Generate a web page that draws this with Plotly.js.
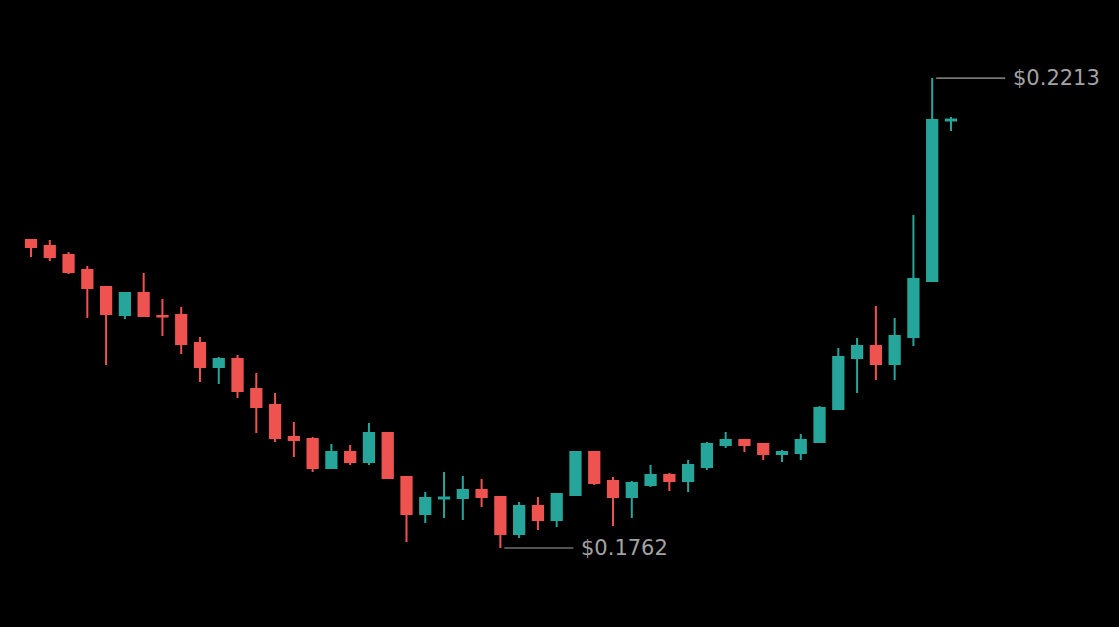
<!DOCTYPE html>
<html>
<head>
<meta charset="utf-8">
<script src="https://cdn.plot.ly/plotly-3.0.1.min.js"></script>
<style>
  html, body { margin: 0; padding: 0; background: #000; }
  #chart { width: 1119px; height: 627px; }
</style>
</head>
<body>
<div id="chart"></div>
<script>
'use strict';

// OHLC, one value per candle
const opens = [
  0.20575, 0.20518, 0.20432, 0.20288, 0.20124, 0.19856, 0.20067, 0.19846, 0.19856, 0.19587,
  0.19357, 0.19434, 0.19146, 0.18992, 0.18685, 0.18666, 0.18388, 0.18541, 0.18445, 0.18723,
  0.18301, 0.17946, 0.18095, 0.18100, 0.18176, 0.18109, 0.17754, 0.18023, 0.17889, 0.18129,
  0.18541, 0.18263, 0.18109, 0.18224, 0.18320, 0.18263, 0.18397, 0.18608, 0.18656, 0.18618,
  0.18522, 0.18532, 0.18637, 0.18954, 0.19443, 0.19558, 0.19386, 0.19645, 0.20182, 0.21722
];
const highs = [
  0.20578, 0.20575, 0.20460, 0.20326, 0.20128, 0.20076, 0.20259, 0.20009, 0.19933, 0.19645,
  0.19453, 0.19472, 0.19299, 0.19107, 0.18829, 0.18685, 0.18618, 0.18608, 0.18819, 0.18726,
  0.18304, 0.18157, 0.18349, 0.18311, 0.18282, 0.18112, 0.18061, 0.18109, 0.18148, 0.18544,
  0.18544, 0.18301, 0.18263, 0.18416, 0.18340, 0.18464, 0.18637, 0.18733, 0.18666, 0.18621,
  0.18560, 0.18714, 0.18983, 0.19539, 0.19635, 0.19942, 0.19827, 0.20815, 0.22130, 0.21756
];
const lows = [
  0.20412, 0.20374, 0.20249, 0.19827, 0.19376, 0.19817, 0.19843, 0.19654, 0.19481, 0.19213,
  0.19194, 0.19059, 0.18723, 0.18637, 0.18493, 0.18349, 0.18378, 0.18416, 0.18416, 0.18289,
  0.17677, 0.17860, 0.17908, 0.17889, 0.18013, 0.17620, 0.17716, 0.17793, 0.17821, 0.18126,
  0.18224, 0.17831, 0.17908, 0.18205, 0.18167, 0.18157, 0.18368, 0.18580, 0.18541, 0.18464,
  0.18445, 0.18464, 0.18628, 0.18951, 0.19107, 0.19232, 0.19232, 0.19558, 0.20179, 0.21621
];
const closes = [
  0.20508, 0.20412, 0.20268, 0.20115, 0.19865, 0.20067, 0.19846, 0.19842, 0.19577, 0.19357,
  0.19434, 0.19127, 0.18973, 0.18675, 0.18656, 0.18388, 0.18541, 0.18445, 0.18723, 0.18292,
  0.17946, 0.18100, 0.18105, 0.18176, 0.18109, 0.17754, 0.18023, 0.17889, 0.18138, 0.18541,
  0.18244, 0.18109, 0.18244, 0.18320, 0.18263, 0.18416, 0.18618, 0.18656, 0.18608, 0.18522,
  0.18541, 0.18656, 0.18963, 0.19453, 0.19558, 0.19386, 0.19654, 0.20201, 0.21727, 0.21732
];

const upColor = '#26a69a',
      downColor = '#ef5350',
      labelColor = '#a3a3a3';

const idx = opens.map(function (_, i) { return i; });

// where the extreme prices sit
const maxHigh = Math.max(...highs),
      minLow = Math.min(...lows),
      maxIdx = highs.indexOf(maxHigh),
      minIdx = lows.indexOf(minLow);

const trace = {
  type: 'candlestick',
  x: idx,
  open: opens,
  high: highs,
  low: lows,
  close: closes,
  increasing: {line: {color: upColor, width: 2}, fillcolor: upColor},
  decreasing: {line: {color: downColor, width: 2}, fillcolor: downColor},
  whiskerwidth: 0,
  hoverinfo: 'skip'
};

function priceLabel(x, y) {
  return {
    x: x,
    y: y,
    xref: 'x',
    yref: 'y',
    text: '$' + y.toFixed(4),
    showarrow: true,
    arrowhead: 0,
    arrowwidth: 1.2,
    arrowcolor: labelColor,
    ax: 73,
    ay: 0,
    standoff: 4,
    borderpad: 7,
    xanchor: 'left',
    font: {family: 'DejaVu Sans', size: 21, color: labelColor}
  };
}

var layout = {
  paper_bgcolor: '#000000',
  plot_bgcolor: '#000000',
  showlegend: false,
  margin: {l: 0, r: 0, t: 0, b: 0},
  boxgap: 0.22,
  xaxis: {
    range: [-1.651, 57.95],
    visible: false,
    rangeslider: {visible: false},
    fixedrange: true
  },
  yaxis: {
    range: [0.16862, 0.22879],
    visible: false,
    fixedrange: true
  },
  annotations: [
    priceLabel(maxIdx, maxHigh),
    priceLabel(minIdx, minLow)
  ]
};

var config = {
  responsive: false,
  displayModeBar: false,
  staticPlot: true
};

Plotly.newPlot('chart', [trace], layout, config);
</script>
</body>
</html>
